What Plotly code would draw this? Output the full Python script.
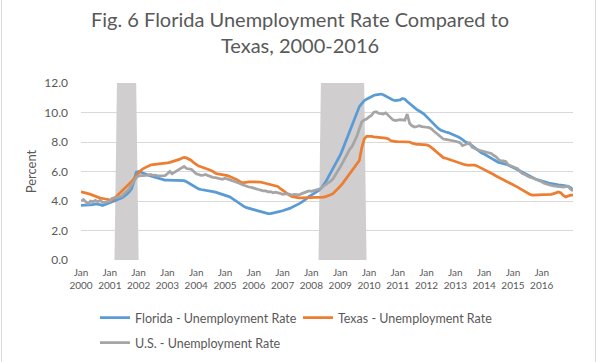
import pandas as pd
import plotly.graph_objects as go

# ---------------- data (monthly) ----------------
months = pd.date_range("2000-01-01", periods=206, freq="MS")
tick_years = list(range(2000, 2017))

florida = [
    3.7, 3.7, 3.7, 3.7, 3.75, 3.75, 3.8, 3.8, 3.75, 3.7, 3.75, 3.8,          # 2000
    3.9, 3.95, 4.0, 4.1, 4.15, 4.2, 4.3, 4.45, 4.6, 4.8, 5.3, 5.95,          # 2001
    6.0, 5.95, 5.88, 5.82, 5.76, 5.7, 5.65, 5.6, 5.55, 5.5, 5.45, 5.42,      # 2002
    5.42, 5.42, 5.42, 5.42, 5.4, 5.4, 5.38, 5.38, 5.3, 5.2, 5.1, 5.0,        # 2003
    4.9, 4.82, 4.78, 4.76, 4.74, 4.72, 4.68, 4.64, 4.6, 4.55, 4.5, 4.47,     # 2004
    4.42, 4.36, 4.28, 4.18, 4.06, 3.95, 3.84, 3.72, 3.62, 3.55, 3.5, 3.45,   # 2005
    3.4, 3.35, 3.3, 3.25, 3.2, 3.16, 3.14, 3.15, 3.2, 3.24, 3.28, 3.3,       # 2006
    3.34, 3.38, 3.45, 3.5, 3.58, 3.65, 3.74, 3.82, 3.92, 4.02, 4.15, 4.3,    # 2007
    4.4, 4.48, 4.56, 4.7, 4.85, 5.05, 5.3, 5.6, 5.9, 6.2, 6.5, 6.8,          # 2008
    7.1, 7.5, 7.9, 8.3, 8.7, 9.2, 9.6, 10.0, 10.4, 10.6, 10.8, 10.9,         # 2009
    11.0, 11.05, 11.15, 11.2, 11.25, 11.25, 11.2, 11.1, 11.0, 10.9, 10.85, 10.8,  # 2010
    10.82, 10.85, 10.95, 10.9, 10.75, 10.6, 10.5, 10.35, 10.2, 10.1, 10.0, 9.9,   # 2011
    9.72, 9.55, 9.38, 9.22, 9.05, 8.9, 8.8, 8.72, 8.68, 8.64, 8.58, 8.52,    # 2012
    8.45, 8.36, 8.28, 8.15, 8.04, 7.96, 7.88, 7.75, 7.62, 7.48, 7.36, 7.25,  # 2013
    7.18, 7.08, 6.98, 6.88, 6.76, 6.68, 6.62, 6.58, 6.54, 6.5, 6.44, 6.36,   # 2014
    6.3, 6.2, 6.12, 6.03, 5.94, 5.84, 5.76, 5.7, 5.6, 5.52, 5.46, 5.4,       # 2015
    5.34, 5.3, 5.26, 5.22, 5.18, 5.13, 5.12, 5.1, 5.08, 5.06, 5.03, 5.0,     # 2016
    4.9, 4.75,                                                               # 2017
]

texas = [
    4.63, 4.6, 4.56, 4.5, 4.45, 4.38, 4.3, 4.25, 4.2, 4.17, 4.13, 4.1,       # 2000
    4.05, 4.05, 4.18, 4.34, 4.48, 4.63, 4.8, 4.95, 5.12, 5.3, 5.5, 5.7,      # 2001
    5.9, 6.08, 6.2, 6.3, 6.38, 6.44, 6.47, 6.49, 6.5, 6.5, 6.5, 6.55,        # 2002
    6.58, 6.62, 6.66, 6.7, 6.75, 6.82, 6.9, 6.95, 6.92, 6.85, 6.75, 6.6,     # 2003
    6.48, 6.37, 6.32, 6.27, 6.22, 6.15, 6.08, 6.0, 5.88, 5.84, 5.82, 5.8,    # 2004
    5.76, 5.72, 5.66, 5.6, 5.53, 5.45, 5.35, 5.26, 5.24, 5.28, 5.3, 5.3,     # 2005
    5.3, 5.3, 5.3, 5.28, 5.24, 5.2, 5.17, 5.14, 5.1, 5.05, 4.98, 4.85,       # 2006
    4.72, 4.6, 4.48, 4.38, 4.3, 4.26, 4.24, 4.22, 4.22, 4.22, 4.22, 4.22,    # 2007
    4.22, 4.22, 4.22, 4.23, 4.25, 4.27, 4.3, 4.34, 4.42, 4.5, 4.65, 4.8,     # 2008
    5.0, 5.2, 5.4, 5.6, 5.85, 6.1, 6.3, 6.5, 6.75, 7.6, 8.2, 8.38,           # 2009
    8.4, 8.38, 8.35, 8.32, 8.3, 8.3, 8.28, 8.26, 8.22, 8.1, 8.05, 8.03,      # 2010
    8.02, 8.02, 8.02, 8.02, 8.02, 8.0, 7.92, 7.86, 7.84, 7.84, 7.84, 7.84,   # 2011
    7.8, 7.75, 7.65, 7.5, 7.35, 7.2, 7.06, 6.94, 6.9, 6.84, 6.78, 6.74,      # 2012
    6.7, 6.62, 6.55, 6.5, 6.46, 6.44, 6.44, 6.44, 6.44, 6.38, 6.3, 6.24,     # 2013
    6.16, 6.08, 6.0, 5.9, 5.8, 5.7, 5.62, 5.54, 5.46, 5.38, 5.3, 5.22,       # 2014
    5.14, 5.04, 4.94, 4.84, 4.74, 4.64, 4.54, 4.46, 4.4, 4.4, 4.4, 4.4,      # 2015
    4.4, 4.4, 4.41, 4.42, 4.45, 4.5, 4.56, 4.62, 4.55, 4.38, 4.28, 4.35,     # 2016
    4.4, 4.4,                                                                # 2017
]

us = [
    4.0, 4.1, 3.95, 3.82, 4.0, 3.95, 4.05, 3.95, 4.05, 3.9, 3.9, 3.95,       # 2000
    4.0, 4.18, 4.22, 4.22, 4.3, 4.32, 4.5, 4.68, 4.8, 5.08, 5.35, 5.58,      # 2001
    5.7, 5.7, 5.74, 5.74, 5.76, 5.8, 5.74, 5.76, 5.7, 5.7, 5.68, 5.72,       # 2002
    5.85, 6.0, 5.85, 5.95, 6.0, 6.1, 6.2, 6.35, 6.2, 6.2, 6.15, 6.0,         # 2003
    5.85, 5.8, 5.74, 5.76, 5.8, 5.72, 5.64, 5.6, 5.58, 5.56, 5.5, 5.47,      # 2004
    5.54, 5.5, 5.42, 5.38, 5.33, 5.28, 5.2, 5.12, 5.05, 5.0, 4.95, 4.92,     # 2005
    4.86, 4.82, 4.78, 4.74, 4.68, 4.68, 4.62, 4.64, 4.56, 4.6, 4.58, 4.52,   # 2006
    4.45, 4.48, 4.5, 4.46, 4.4, 4.44, 4.45, 4.42, 4.5, 4.56, 4.62, 4.68,     # 2007
    4.66, 4.7, 4.72, 4.8, 4.85, 5.0, 5.1, 5.2, 5.35, 5.5, 5.75, 6.0,         # 2008
    6.3, 6.6, 6.9, 7.2, 7.5, 7.7, 8.0, 8.4, 8.9, 9.35, 9.5, 9.55,            # 2009
    9.7, 9.8, 10.0, 10.05, 9.95, 9.9, 9.9, 9.98, 9.8, 9.65, 9.5, 9.45,       # 2010
    9.5, 9.52, 9.5, 9.48, 9.9, 9.25, 9.1, 9.02, 9.05, 9.1, 9.04, 9.0,        # 2011
    9.0, 8.98, 8.9, 8.75, 8.6, 8.45, 8.3, 8.2, 8.18, 8.16, 8.13, 8.11,       # 2012
    8.05, 8.0, 7.95, 7.75, 7.8, 7.88, 7.95, 7.65, 7.55, 7.5, 7.44, 7.4,      # 2013
    7.38, 7.34, 7.3, 7.22, 7.1, 7.0, 6.82, 6.72, 6.72, 6.68, 6.45, 6.38,     # 2014
    6.32, 6.26, 6.2, 6.0, 5.86, 5.8, 5.7, 5.62, 5.58, 5.52, 5.44, 5.36,      # 2015
    5.3, 5.2, 5.14, 5.08, 5.06, 5.03, 5.0, 4.96, 4.95, 4.95, 4.98, 5.0,      # 2016
    4.8, 4.68,                                                               # 2017
]

# shaded recession periods (first and last shaded month)
recession_periods = [("2001-04-01", "2001-12-01"), ("2008-05-01", "2009-11-01")]
recession_height = 12.0
recession = [
    recession_height if any(pd.Timestamp(a) <= m <= pd.Timestamp(b) for a, b in recession_periods) else 0.0
    for m in months
]

series_names = ["Florida - Unemployment Rate", "Texas - Unemployment Rate", "U.S. - Unemployment Rate"]
series_colors = ["#5B9BD5", "#ED7D31", "#A5A5A5"]

FONT = "Lato"
TXT = "#595959"

fig = go.Figure()

fig.add_trace(go.Scatter(
    x=months, y=recession, mode="lines", line=dict(width=0, color="#D0CECE"),
    fill="tozeroy", fillcolor="#D0CECE", showlegend=False, hoverinfo="skip",
))

for vals, name, col, lg in zip([florida, texas, us], series_names, series_colors,
                               ["legend", "legend", "legend2"]):
    fig.add_trace(go.Scatter(
        x=months, y=vals, mode="lines", name=name,
        line=dict(color=col, width=2.75), legend=lg,
    ))

tick_vals = [pd.Timestamp(year=y, month=1, day=1) for y in tick_years]
tick_text = [f"Jan<br>{y}" for y in tick_years]

legend_common = dict(
    orientation="h", xref="container", yref="container",
    x=95 / 600, xanchor="left", yanchor="top",
    font=dict(family=FONT, size=12.5, color=TXT), bgcolor="rgba(0,0,0,0)",
    itemwidth=30, entrywidth=158, entrywidthmode="pixels",
)

fig.update_layout(
    width=600, height=362,
    paper_bgcolor="white", plot_bgcolor="white",
    margin=dict(l=81, r=27, t=83, b=102),
    font=dict(family=FONT, color=TXT),
    title=dict(
        text="Fig. 6 Florida Unemployment Rate Compared to<br>Texas, 2000-2016",
        x=0.5, xref="container", xanchor="center",
        y=1 - 27 / 362, yref="container", yanchor="top",
        font=dict(family=FONT, size=20, color=TXT),
    ),
    xaxis=dict(
        type="date", range=["2000-01-01", "2017-02-01"],
        tickmode="array", tickvals=tick_vals, ticktext=tick_text,
        showgrid=False, zeroline=False, showline=False, ticks="", ticklabelstandoff=5,
        tickfont=dict(family=FONT, size=10, color=TXT),
    ),
    yaxis=dict(
        range=[0, 12], dtick=2, tickformat=".1f",
        showgrid=True, gridcolor="#D9D9D9", gridwidth=1,
        zeroline=False, showline=False, ticks="", ticklabelstandoff=12,
        tickfont=dict(family=FONT, size=12, color=TXT),
        title=dict(text="Percent", font=dict(family=FONT, size=13, color=TXT), standoff=4),
    ),
    legend=dict(legend_common, y=1 - 303 / 362),
    legend2=dict(legend_common, y=1 - 328 / 362),
    shapes=[
        dict(type="line", xref="paper", yref="paper",
             x0=(1.5 - 81) / 492, x1=(1.5 - 81) / 492, y0=-102 / 177, y1=260 / 177,
             line=dict(color="#D9D9D9", width=1)),
        dict(type="line", xref="paper", yref="paper",
             x0=(595.5 - 81) / 492, x1=(595.5 - 81) / 492, y0=-102 / 177, y1=260 / 177,
             line=dict(color="#D9D9D9", width=1)),
    ],
)

fig.write_html(
    "out.html",
    config={"displayModeBar": False},
    post_script="document.body.style.margin='0';document.body.style.overflow='hidden';",
)
